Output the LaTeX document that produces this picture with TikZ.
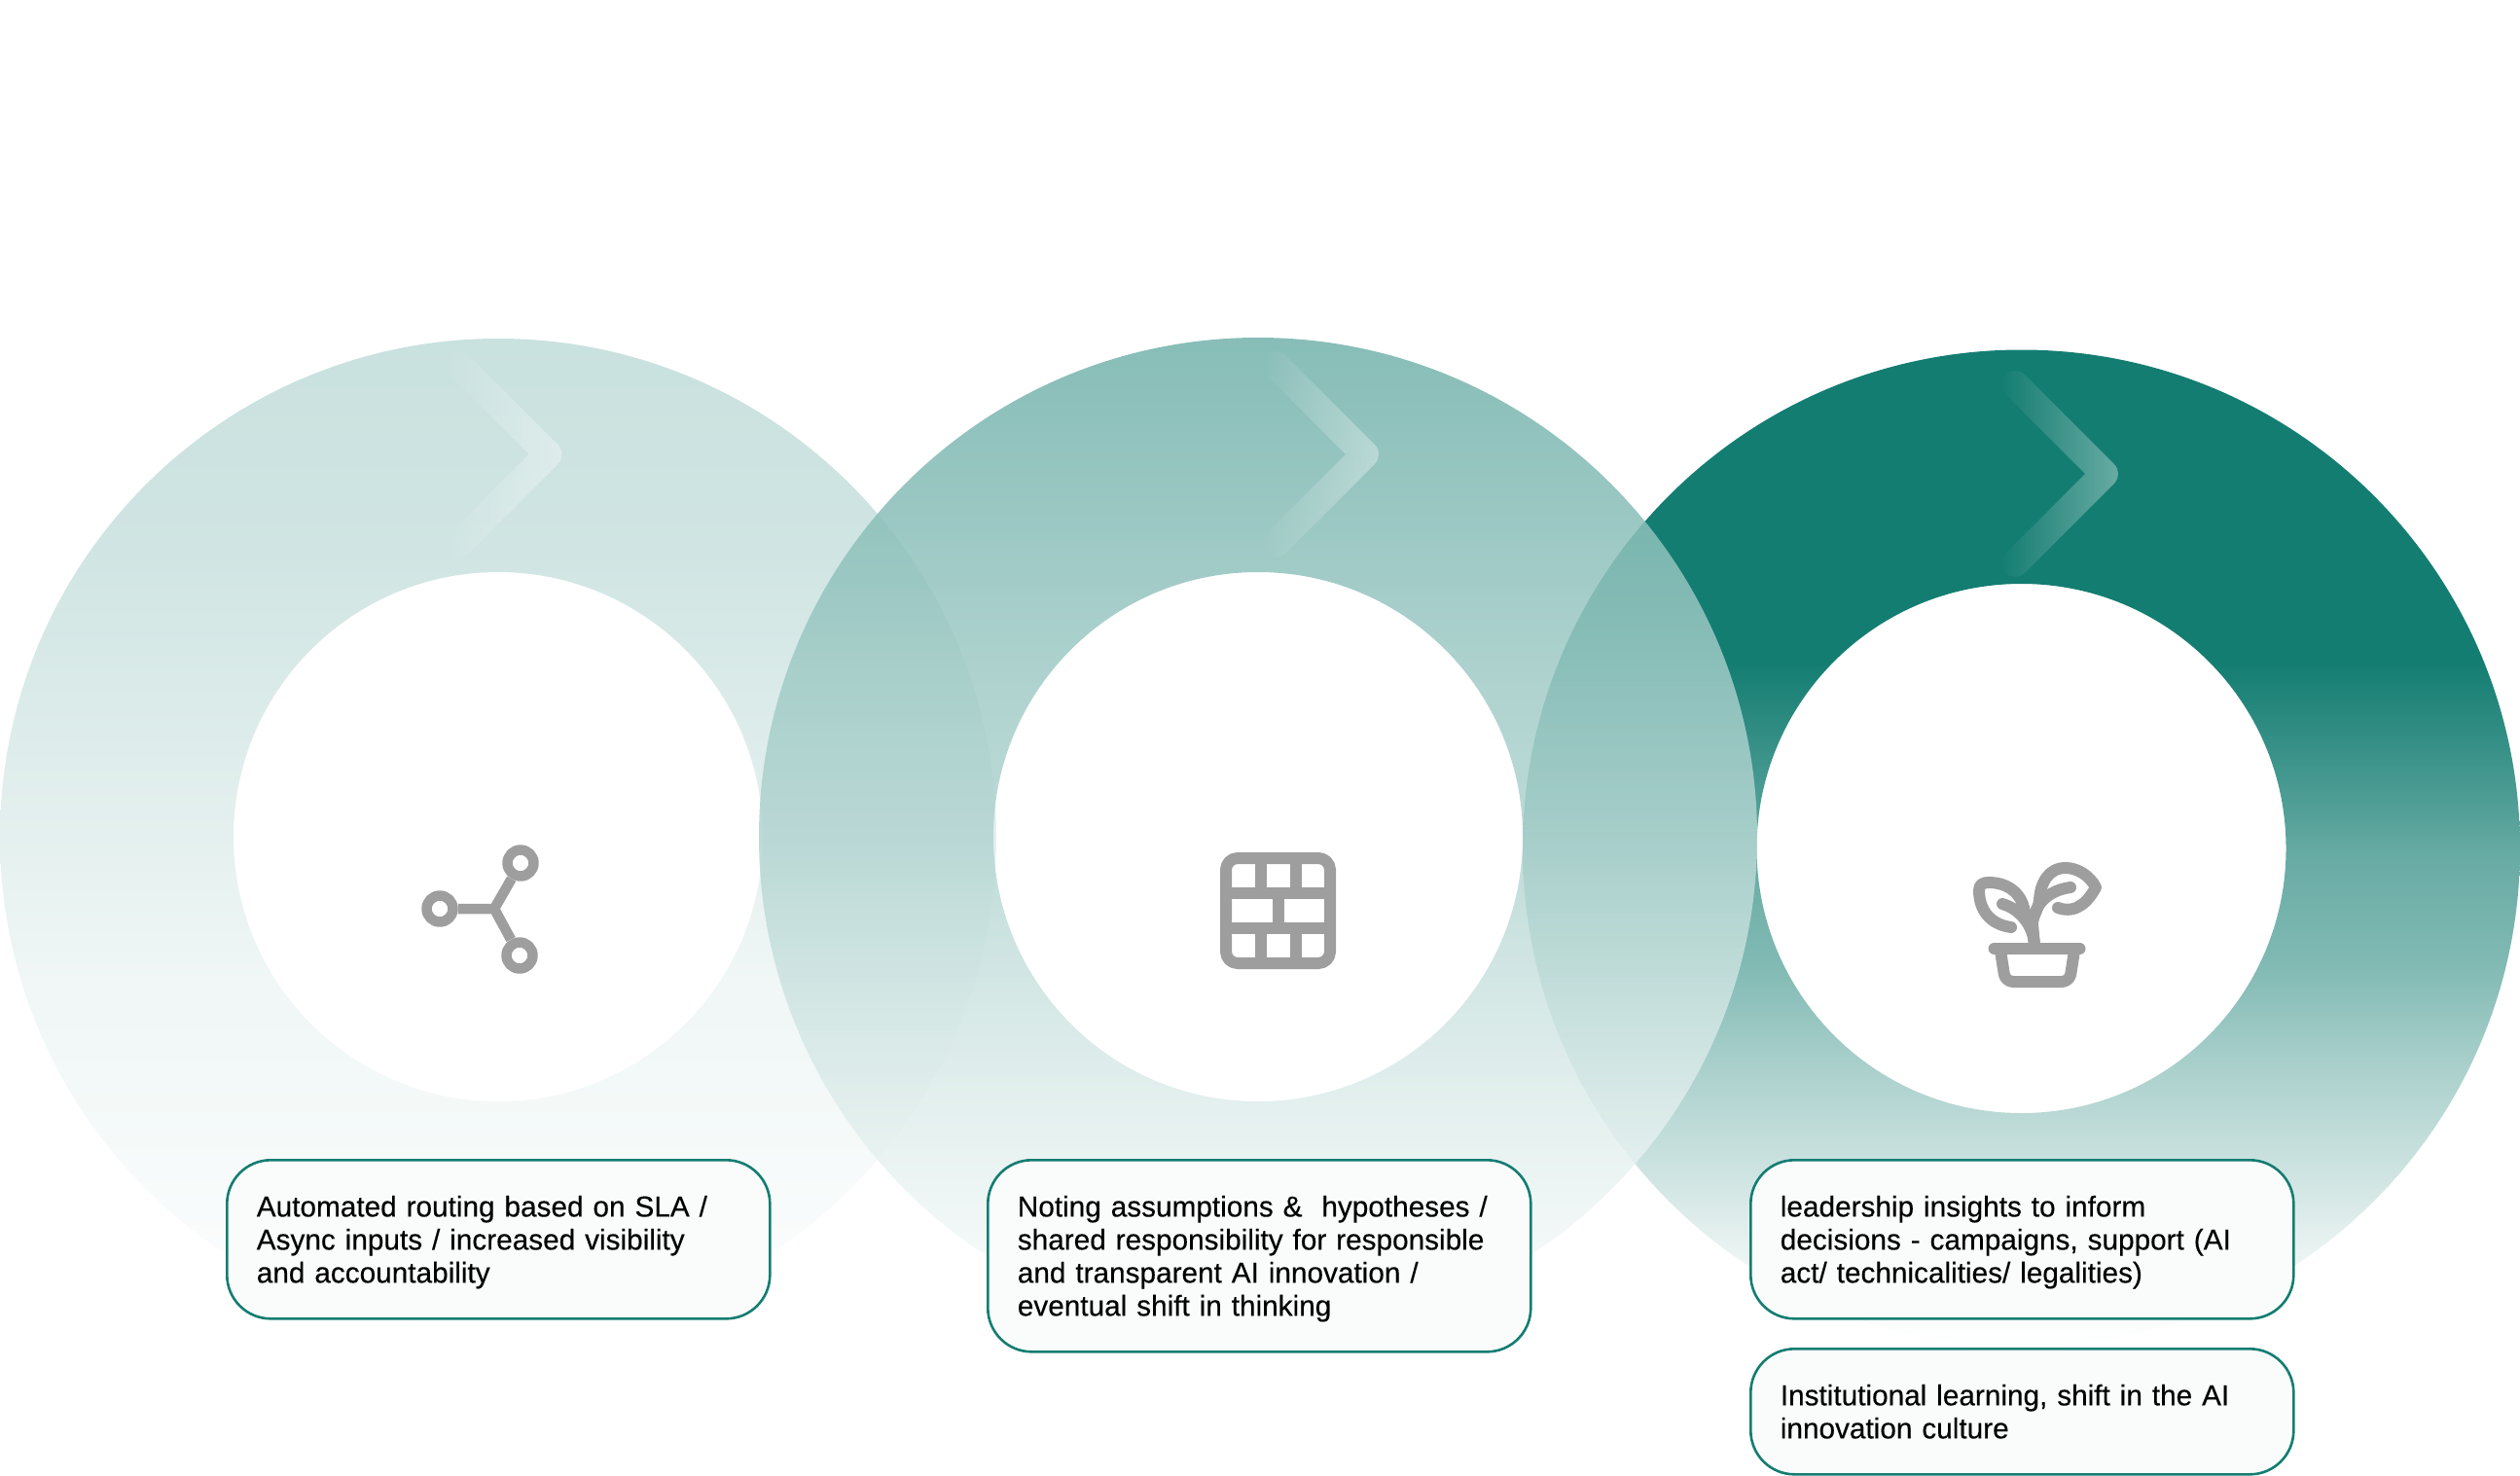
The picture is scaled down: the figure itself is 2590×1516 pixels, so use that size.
\documentclass[tikz,border=0pt]{standalone}
\usepackage{fontspec}
\setmainfont{Liberation Sans}[RawFeature={embolden=0.25}]
\usetikzlibrary{fadings}
\definecolor{tealline}{HTML}{147D72}
\definecolor{boxfill}{HTML}{FAFCFB}
\definecolor{icongrey}{HTML}{9E9E9E}
% y maps: 25bp = bottom of the circle, 75bp = top of it
\pgfdeclareverticalshading{ringone}{100bp}{
  color(0bp)=(white); color(25bp)=(white); color(28.5bp)=(white!98!tealline);
  color(35.8bp)=(white!95.5!tealline); color(43bp)=(white!93.5!tealline); color(50bp)=(white!88.5!tealline);
  color(57.8bp)=(white!84!tealline); color(64.3bp)=(white!80!tealline); color(75bp)=(white!77!tealline); color(100bp)=(white!77!tealline)}
\pgfdeclareverticalshading{ringtwo}{100bp}{
  color(0bp)=(white); color(25bp)=(white); color(28.5bp)=(white!95.3!tealline);
  color(35.8bp)=(white!87.2!tealline); color(41.3bp)=(white!80.2!tealline); color(50bp)=(white!67.4!tealline);
  color(57.7bp)=(white!60.5!tealline); color(64.3bp)=(white!52.3!tealline); color(75bp)=(white!40.7!tealline); color(100bp)=(white!40.7!tealline)}
\pgfdeclareverticalshading{ringthree}{100bp}{
  color(0bp)=(white); color(25bp)=(white); color(25.7bp)=(white!99!tealline); color(29.4bp)=(white!92!tealline);
  color(33.4bp)=(white!80!tealline); color(38.7bp)=(white!65!tealline); color(44bp)=(white!47!tealline);
  color(49.4bp)=(white!36!tealline); color(54.8bp)=(white!16!tealline); color(59.3bp)=(tealline); color(75bp)=(tealline); color(100bp)=(tealline)}
\tikzfading[name=chevfade, left color=transparent!100, right color=transparent!64]
\newcommand{\firstln}{\rule{0pt}{23.5pt}}
\newcommand{\lastln}{\rule[-5.5pt]{0pt}{5.5pt}}
\tikzset{
  x=0.3mm, y=-0.3mm,
  ringshape/.style={even odd rule, draw=none},
  chevron/.style={fill=white, draw=none, path fading=chevfade},
  infobox/.style={draw=tealline, line width=2.6*0.3mm, fill=boxfill, rounded corners=13.5mm,
    inner sep=0pt, align=left, anchor=north west, minimum width=558*0.3mm, text width=497*0.3mm,
    font=\fontsize{25.4pt}{29pt}\selectfont, text=black},
  icon/.style={draw=icongrey, line width=10.5*0.3mm, line cap=round, line join=round},
  plantline/.style={icon, line width=12*0.3mm}
}
\newcommand{\chevronat}[2]{%
  \fill[chevron, shift={(#1,#2)}] (-101.9,-82.1) arc[start angle=135,end angle=315,radius=14]
    -- (9.9,-9.9) arc[start angle=315,end angle=405,radius=14]
    -- (-82.1,101.9) arc[start angle=45,end angle=225,radius=14]
    -- (-19.8,0) -- cycle;}
\begin{document}
\begin{tikzpicture}
\useasboundingbox (0,0) rectangle (2590,1516);
\shade[ringshape, shading=ringone] (512,860) circle[radius=512] (512,860) circle[radius=272];
\chevronat{563.5}{467}
\shade[ringshape, shading=ringthree] (2077.5,872) circle[radius=512.5] (2077.5,872) circle[radius=272];
\chevronat{2163}{487}
\begin{scope}[fill opacity=.86]
\shade[ringshape, shading=ringtwo] (1293,860) circle[radius=513] (1293,860) circle[radius=272];
\end{scope}
\chevronat{1403}{467}
% boxes
\node[infobox, minimum height=163*0.3mm] (b1) at (232,1191)
  {\firstln Automated routing based on SLA /\\Async inputs / increased visibility\\\lastln and accountability};
\node[infobox, minimum height=197*0.3mm] (b2) at (1014,1191)
  {\firstln Noting assumptions \&\ \ hypotheses /\\shared responsibility for responsible\\and transparent AI innovation /\\\lastln eventual shift in thinking};
\node[infobox, minimum height=163*0.3mm] (b3) at (1798,1191)
  {\firstln leadership insights to inform\\decisions - campaigns, support (AI\\\lastln act/ technicalities/ legalities)};
\node[infobox, minimum height=129*0.3mm] (b4) at (1798,1385)
  {\firstln Institutional learning, shift in the AI\\\lastln innovation culture};
% icon 1
\coordinate (j) at (508,934);
\node[circle, icon, inner sep=0pt, minimum size=27*0.3mm] (n1) at (452,934) {};
\node[circle, icon, inner sep=0pt, minimum size=27*0.3mm] (n2) at (535,887) {};
\node[circle, icon, inner sep=0pt, minimum size=27*0.3mm] (n3) at (534,982) {};
\draw[icon, line cap=butt] (n1) -- (j) (n2) -- (j) (n3) -- (j);
% icon 2
\draw[icon, line width=12*0.3mm, rounded corners=3.6mm] (1260,882) rectangle (1367,990);
\draw[icon, line width=12*0.3mm, line cap=butt] (1260,918) -- (1367,918) (1260,954) -- (1367,954)
  (1296,882) -- (1296,918) (1332,882) -- (1332,918) (1314,918) -- (1314,954)
  (1296,954) -- (1296,990) (1332,954) -- (1332,990);
% icon 3
\draw[plantline] (2049.5,975) -- (2137.5,975);
\draw[plantline, rounded corners=2.4mm] (2056,977) -- (2061,1009) -- (2127,1009) -- (2132,977);
\draw[plantline] (2067,953) .. controls (2045,950) and (2034,935) .. (2034,915)
  .. controls (2034,909) and (2038,907) .. (2044,907)
  .. controls (2065,907) and (2080,920) .. (2081,940) -- (2087,950);
\draw[plantline] (2058,929) .. controls (2075,934) and (2090,950) .. (2091,972);
\draw[plantline] (2115,933) .. controls (2135,940) and (2147,925) .. (2154,912)
  .. controls (2148,900) and (2135,892) .. (2123,892)
  .. controls (2105,892) and (2097,908) .. (2096,925)
  .. controls (2095,935) and (2090,940) .. (2088,950);
\draw[plantline] (2128,912) .. controls (2105,915) and (2090,930) .. (2089,950) -- (2091,972);
\end{tikzpicture}
\end{document}
